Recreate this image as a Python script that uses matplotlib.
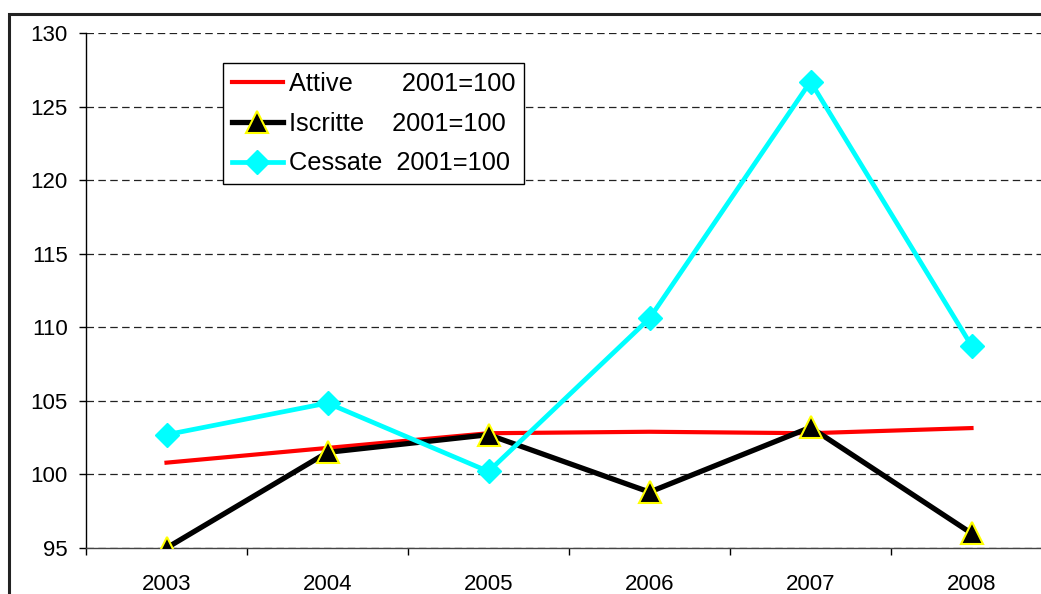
import matplotlib
matplotlib.use("Agg")
import matplotlib.pyplot as plt
from matplotlib.patches import Rectangle

plt.rcParams['font.family'] = ['Liberation Sans', 'DejaVu Sans']

# dati (indici 2001=100)
anni = ["2003", "2004", "2005", "2006", "2007", "2008"]
attive = [100.8, 101.8, 102.8, 102.9, 102.8, 103.15]
iscritte = [95.0, 101.5, 102.7, 98.8, 103.2, 96.0]
cessate = [102.7, 104.85, 100.2, 110.6, 126.7, 108.75]
y_ticks = [95, 100, 105, 110, 115, 120, 125, 130]

fig = plt.figure(figsize=(10.41, 5.94), dpi=100)
ax = fig.add_axes([86 / 1041, 1 - 548 / 594, 966 / 1041, 515 / 594])

# cornice esterna (tagliata a destra e in basso)
fig.patches.append(Rectangle((9 / 1041, -0.2), 1.2, 0.2 + (1 - 14 / 594),
                             transform=fig.transFigure, fill=False,
                             edgecolor="#222222", linewidth=2.2, zorder=0))

x = list(range(1, len(anni) + 1))
ax.plot(x, attive, color="#ff0000", linewidth=3, label="Attive       2001=100", zorder=3)
ax.plot(x, iscritte, color="black", linewidth=3.8, marker="^", markersize=16,
        markerfacecolor="black", markeredgecolor="#ffff00", markeredgewidth=1.5,
        label="Iscritte    2001=100", zorder=3.5)
ax.plot(x, cessate, color="#00ffff", linewidth=3.4, marker="D", markersize=12.5,
        markerfacecolor="#00ffff", markeredgecolor="#00ffff",
        label="Cessate  2001=100", zorder=4)

ax.set_xlim(0.5, len(anni) + 0.5)
ax.set_ylim(95, 130)
ax.set_yticks(y_ticks)
ax.set_xticks(x)
ax.set_xticklabels(anni)
ax.set_xticks([v + 0.5 for v in range(0, len(anni) + 1)], minor=True)

ax.tick_params(axis="y", direction="out", length=5, width=1, pad=8, labelsize=16)
ax.tick_params(axis="x", which="major", length=0, pad=19, labelsize=16)
ax.tick_params(axis="x", which="minor", direction="out", length=5, width=1)

ax.yaxis.grid(True, color="#222222", linestyle=(0, (6, 3.5)), linewidth=0.9)
ax.set_axisbelow(True)
for s in ["top", "right"]:
    ax.spines[s].set_visible(False)
ax.spines["left"].set_linewidth(1)
ax.spines["bottom"].set_linewidth(1)
ax.spines["bottom"].set_color("#444444")

leg = ax.legend(loc="upper left", bbox_to_anchor=(223 / 1041, 1 - 63 / 594),
                bbox_transform=fig.transFigure, fontsize=18.3, frameon=True,
                fancybox=False, framealpha=1, edgecolor="black",
                handlelength=2.0, handletextpad=0.25, labelspacing=0.62,
                borderpad=0.35, borderaxespad=0)
leg.get_frame().set_linewidth(1)

fig.savefig("out.png", dpi=100)
